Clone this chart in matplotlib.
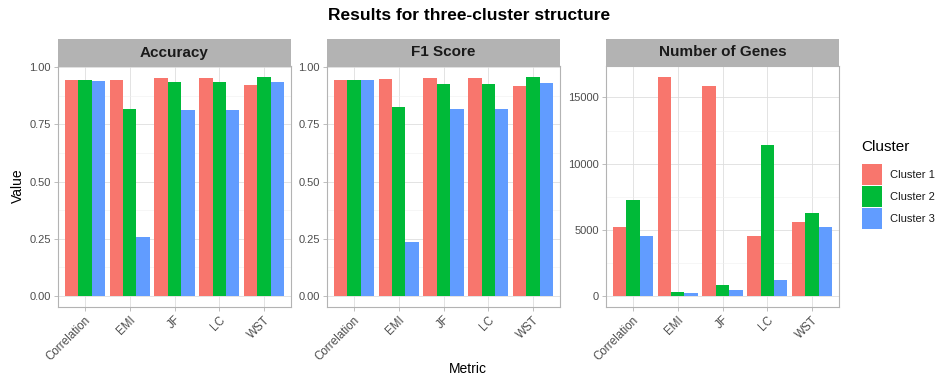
import numpy as np
import matplotlib
matplotlib.use('Agg')
import matplotlib.pyplot as plt
from matplotlib.patches import Rectangle

plt.rcParams['font.family'] = ['Liberation Sans', 'DejaVu Sans']

# data
metrics = ['Correlation', 'EMI', 'JF', 'LC', 'WST']
clusters = ['Cluster 1', 'Cluster 2', 'Cluster 3']
colors = ['#F8766D', '#00BA38', '#619CFF']

accuracy_c1 = [0.945, 0.945, 0.951, 0.951, 0.922]
accuracy_c2 = [0.942, 0.817, 0.935, 0.935, 0.957]
accuracy_c3 = [0.939, 0.257, 0.812, 0.812, 0.934]

f1_c1 = [0.945, 0.947, 0.952, 0.952, 0.919]
f1_c2 = [0.942, 0.824, 0.925, 0.925, 0.957]
f1_c3 = [0.942, 0.237, 0.817, 0.817, 0.932]

genes_c1 = [5230, 16550, 15880, 4520, 5600]
genes_c2 = [7290, 330, 800, 11400, 6250]
genes_c3 = [4550, 200, 430, 1210, 5230]

panels = [
    ('Accuracy', [accuracy_c1, accuracy_c2, accuracy_c3], [0, 0.25, 0.5, 0.75, 1.0],
     ['0.00', '0.25', '0.50', '0.75', '1.00']),
    ('F1 Score', [f1_c1, f1_c2, f1_c3], [0, 0.25, 0.5, 0.75, 1.0],
     ['0.00', '0.25', '0.50', '0.75', '1.00']),
    ('Number of Genes', [genes_c1, genes_c2, genes_c3], [0, 5000, 10000, 15000],
     ['0', '5000', '10000', '15000']),
]

W, H = 938, 379
fig = plt.figure(figsize=(W / 100, H / 100), dpi=100)
fig.patch.set_facecolor('white')

panel_left = [58, 327, 606]
panel_w = 233
panel_top = 66
panel_bot = 307
strip_h = 27

grid_major = '#DEDEDE'
grid_minor = '#EFEFEF'
border = '#B3B3B3'
tick_col = '#4D4D4D'

x = np.arange(1, len(metrics) + 1)
bw = 0.3

for (title, series, yticks, ylabels), left in zip(panels, panel_left):
    ax = fig.add_axes([left / W, (H - panel_bot) / H, panel_w / W, (panel_bot - panel_top) / H])
    ymax = max(max(s) for s in series)
    ax.set_ylim(-0.05 * ymax, 1.05 * ymax)
    ax.set_xlim(0.4, len(metrics) + 0.6)

    # grid
    for t in x:
        ax.axvline(t, color=grid_major, lw=0.6, zorder=0)
    for t in yticks:
        ax.axhline(t, color=grid_major, lw=0.6, zorder=0)
    step = yticks[1] - yticks[0]
    for t in np.arange(yticks[0] + step / 2, 1.05 * ymax, step):
        ax.axhline(t, color=grid_minor, lw=0.4, zorder=0)

    for i, (vals, col) in enumerate(zip(series, colors)):
        ax.bar(x + (i - 1) * bw, vals, width=bw, color=col, zorder=2, linewidth=0)

    ax.set_xticks(x)
    ax.set_xticklabels(metrics, rotation=45, ha='right', va='top',
                       rotation_mode='anchor', fontsize=8.4, color=tick_col)
    ax.set_yticks(yticks)
    ax.set_yticklabels(ylabels, fontsize=8, color=tick_col)
    ax.tick_params(axis='both', length=3, width=0.6, color=border, pad=2)
    for sp in ax.spines.values():
        sp.set_color(border)
        sp.set_linewidth(0.8)

    # strip on top of the panel
    sax = fig.add_axes([left / W, (H - panel_top) / H, panel_w / W, strip_h / H])
    sax.add_patch(Rectangle((0, 0), 1, 1, transform=sax.transAxes,
                            facecolor='#B3B3B3', edgecolor='none'))
    sax.set_xlim(0, 1)
    sax.set_ylim(0, 1)
    sax.axis('off')
    sax.text(0.5, 0.5, title, ha='center', va='center', fontsize=11,
             fontweight='bold', color='#1A1A1A')

fig.text(0.5, 1 - 15 / H, 'Results for three-cluster structure', ha='center',
         va='center', fontsize=12.5, fontweight='bold', color='black')
fig.text(18 / W, 1 - 186 / H, 'Value', rotation=90, ha='center', va='center',
         fontsize=10, color='black')
fig.text(468 / W, 1 - 369 / H, 'Metric', ha='center', va='center',
         fontsize=10, color='black')

# legend
fig.text(861 / W, 1 - 147 / H, 'Cluster', ha='left', va='center', fontsize=11)
key_top = 164
key_h = 22
for i, (lab, col) in enumerate(zip(clusters, colors)):
    y0 = key_top + i * key_h
    fig.patches.append(Rectangle((862 / W, 1 - (y0 + key_h - 1) / H), 20 / W, (key_h - 1) / H,
                                 transform=fig.transFigure, facecolor=col,
                                 edgecolor='none'))
    fig.text(890 / W, 1 - (y0 + key_h / 2) / H, lab, ha='left', va='center',
             fontsize=8, color='#1A1A1A')

plt.savefig('out.png', dpi=100, facecolor='white')
